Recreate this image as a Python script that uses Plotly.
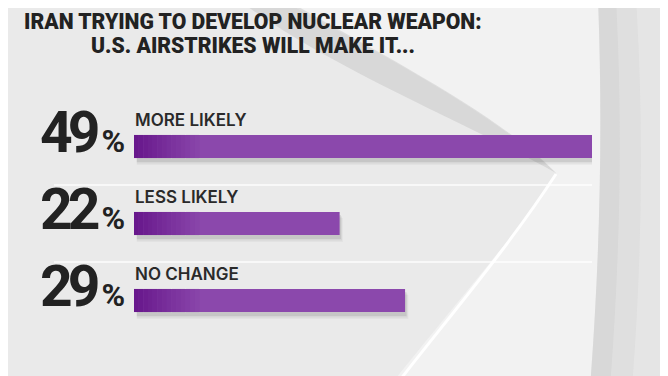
import plotly.graph_objects as go

categories = ["MORE LIKELY", "LESS LIKELY", "NO CHANGE"]
values = [49, 22, 29]
title_lines = ["IRAN TRYING TO DEVELOP NUCLEAR WEAPON:", "U.S. AIRSTRIKES WILL MAKE IT..."]

# page is shown with an 8px body margin, so size the figure to fit the window
W, H = 660, 368
ML, MR, MT, MB = 126, 76, 100, 37
PW, PH = W - ML - MR, H - MT - MB
BAR_W = 0.3
BAR_COLOR = (139, 72, 172)
BAR_DARK = (104, 24, 140)


def px(x):  # figure pixel -> paper x
    return (x - ML) / PW


def py(y):  # figure pixel (from top) -> paper y
    return 1 - (y - MT) / PH


fig = go.Figure()
fig.add_trace(go.Bar(
    x=values, y=categories, orientation="h",
    width=BAR_W,
    marker=dict(color="rgb(%d,%d,%d)" % BAR_COLOR, line=dict(width=0)),
    hoverinfo="skip",
))

shapes = [
    # lighter swoosh band in centre/top
    dict(type="path", xref="paper", yref="paper", layer="below",
         path=f"M {px(270)} {py(-10)} L {px(590)} {py(-10)} C {px(595)} {py(120)}, {px(592)} {py(250)}, {px(582)} {py(380)} "
              f"L {px(380)} {py(380)} C {px(460)} {py(280)}, {px(530)} {py(200)}, {px(548)} {py(165)} "
              f"C {px(480)} {py(100)}, {px(360)} {py(40)}, {px(270)} {py(-10)} Z",
         fillcolor="rgba(246,246,246,0.6)", line=dict(width=0)),
    # darker wedge edge
    dict(type="path", xref="paper", yref="paper", layer="below",
         path=f"M {px(228)} {py(-10)} L {px(275)} {py(-10)} C {px(370)} {py(45)}, {px(490)} {py(105)}, {px(548)} {py(165)} "
              f"C {px(450)} {py(110)}, {px(320)} {py(60)}, {px(228)} {py(-10)} Z",
         fillcolor="rgba(170,170,170,0.28)", line=dict(width=0)),
    # right darker band (soft gradient)
    dict(type="path", xref="paper", yref="paper", layer="below",
         path=f"M {px(590)} {py(-10)} C {px(595)} {py(120)}, {px(592)} {py(250)}, {px(582)} {py(380)} "
              f"L {px(670)} {py(380)} L {px(670)} {py(-10)} Z",
         fillcolor="#d8d8d8", line=dict(width=0)),
    dict(type="path", xref="paper", yref="paper", layer="below",
         path=f"M {px(608)} {py(-10)} C {px(615)} {py(120)}, {px(612)} {py(250)}, {px(602)} {py(380)} "
              f"L {px(670)} {py(380)} L {px(670)} {py(-10)} Z",
         fillcolor="rgba(232,232,232,0.45)", line=dict(width=0)),
    dict(type="path", xref="paper", yref="paper", layer="below",
         path=f"M {px(628)} {py(-10)} C {px(636)} {py(120)}, {px(634)} {py(250)}, {px(624)} {py(380)} "
              f"L {px(670)} {py(380)} L {px(670)} {py(-10)} Z",
         fillcolor="rgba(236,236,236,0.5)", line=dict(width=0)),
    # white arc
    dict(type="path", xref="paper", yref="paper", layer="below",
         path=f"M {px(548)} {py(166)} C {px(500)} {py(240)}, {px(440)} {py(310)}, {px(392)} {py(372)}",
         line=dict(color="rgba(255,255,255,0.95)", width=3)),
]
# row separators
for i in range(len(categories) - 1):
    shapes.append(dict(type="line", xref="paper", yref="y", layer="below",
                       x0=px(46), x1=1.0, y0=i + 0.5, y1=i + 0.5,
                       line=dict(color="rgba(255,255,255,0.9)", width=1.5)))
# soft drop shadows under the bars and a dark-to-light start of each bar
for i, v in enumerate(values):
    for k, a in enumerate([0.10, 0.07, 0.04]):
        shapes.append(dict(type="rect", xref="x", yref="y", layer="below",
                           x0=0.3, x1=v + 0.15 + 0.1 * k,
                           y0=i - BAR_W / 2 + 0.04 + 0.02 * k, y1=i + BAR_W / 2 + 0.05 + 0.02 * k,
                           fillcolor=f"rgba(60,60,60,{a})", line=dict(width=0)))
    n = 14
    span = 7.0
    for k in range(n):
        t = k / n
        c = tuple(int(BAR_DARK[j] + (BAR_COLOR[j] - BAR_DARK[j]) * t) for j in range(3))
        shapes.append(dict(type="rect", xref="x", yref="y", layer="above",
                           x0=span * k / n, x1=span * (k + 1) / n + 0.02,
                           y0=i - BAR_W / 2, y1=i + BAR_W / 2,
                           fillcolor="rgb(%d,%d,%d)" % c, line=dict(width=0)))

title_font = dict(family="Roboto", size=21.2, color="#222222", weight=900)
annotations = [
    dict(xref="paper", yref="paper", x=px(244.5), y=py(-1), xanchor="center", yanchor="top",
         showarrow=False, text=title_lines[0], font=title_font),
    dict(xref="paper", yref="paper", x=px(244.5), y=py(23), xanchor="center", yanchor="top",
         showarrow=False, text=title_lines[1], font=title_font),
]
for i, (c, v) in enumerate(zip(categories, values)):
    s = str(v)
    annotations.append(dict(xref="x", yref="y", x=0, y=i, xanchor="left", yanchor="bottom",
                            yshift=15, xshift=-1, showarrow=False, text=c,
                            font=dict(family="Inter", size=17, color="#2a2a2a", weight=600)))
    annotations.append(dict(xref="x", yref="y", x=0, y=i, xanchor="right", yanchor="bottom",
                            yshift=-21, xshift=-7, showarrow=False,
                            text=(f"<span style='letter-spacing:-5px'>{s[:-1]}</span>"
                                  f"<span style='letter-spacing:1px'>{s[-1]}</span>"
                                  f"<span style='font-size:32px;letter-spacing:0px'>%</span>"),
                            font=dict(family="Roboto", size=57, color="#222222", weight=700)))

fig.update_layout(
    width=W, height=H,
    margin=dict(l=ML, r=MR, t=MT, b=MB, autoexpand=False),
    paper_bgcolor="#eaeaea", plot_bgcolor="rgba(0,0,0,0)",
    showlegend=False,
    xaxis=dict(range=[0, 49], autorange=False, visible=False, fixedrange=True),
    yaxis=dict(type="category", categoryorder="array", categoryarray=categories,
               range=[2.5, -0.5], autorange=False, visible=False, fixedrange=True),
    shapes=shapes, annotations=annotations,
)
fig.write_html("out.html")
